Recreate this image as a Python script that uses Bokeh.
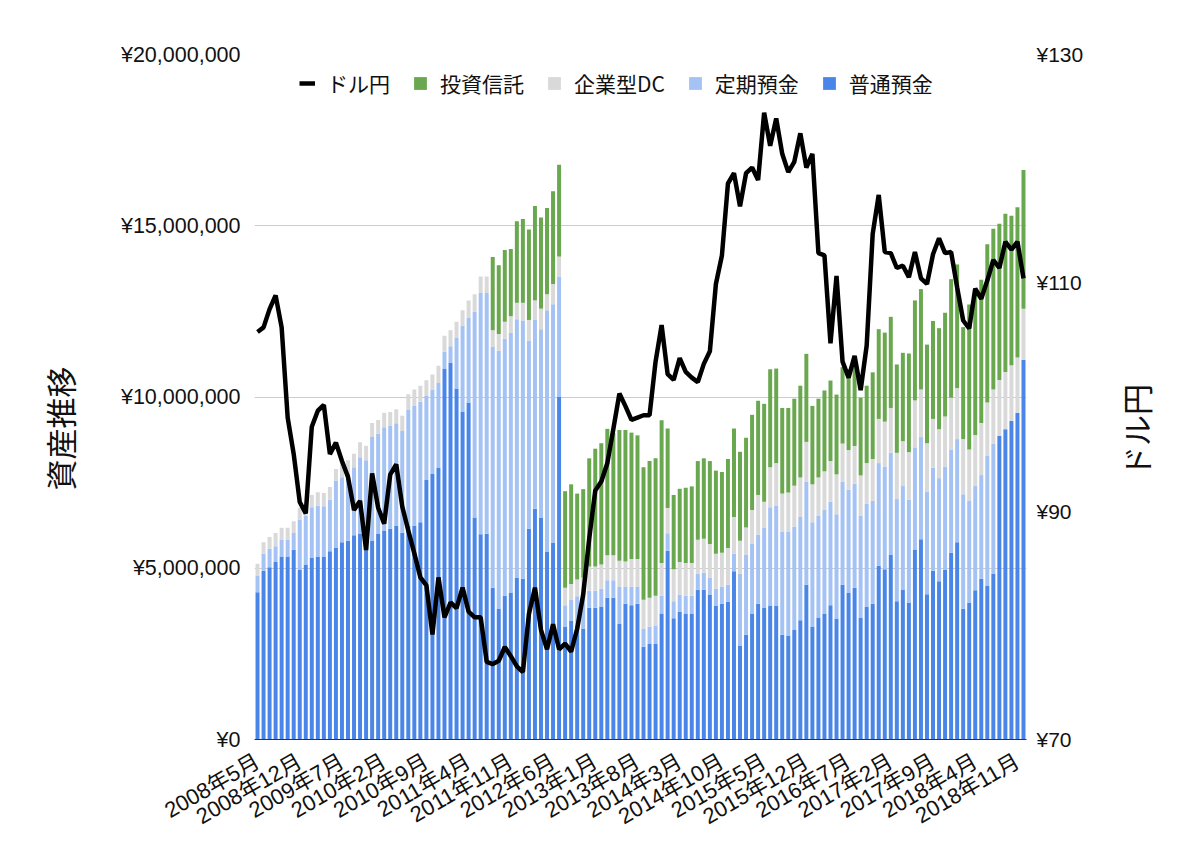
import math
from bokeh.plotting import figure
from bokeh.models import (Range1d, LinearAxis, FixedTicker, Legend, LegendItem,
                          ColumnDataSource, Title, Label)
from bokeh.embed import file_html
from bokeh.resources import INLINE

# ---- data (million yen), monthly 2008-05 .. 2018-12 ----
futsu = [4.30, 4.93, 5.03, 5.18, 5.34, 5.34, 5.54, 4.95, 5.11, 5.30,
         5.34, 5.34, 5.50, 5.59, 5.76, 5.80, 5.96, 6.00, 5.95, 5.81,
         6.00, 6.10, 6.15, 6.23, 6.04, 6.23, 6.23, 6.34, 7.58, 7.75,
         7.93, 10.82, 10.99, 10.25, 9.56, 9.84, 6.48, 5.99, 6.01, 4.43,
         3.81, 4.20, 4.29, 4.73, 4.69, 6.15, 6.74, 6.48, 5.49, 5.74,
         10.00, 3.30, 3.46, 3.24, 3.24, 3.85, 3.85, 3.88, 4.14, 4.14,
         3.37, 3.96, 3.92, 3.96, 2.71, 2.79, 2.79, 3.68, 5.51, 3.54,
         3.72, 3.68, 3.68, 4.37, 4.37, 4.23, 3.90, 3.96, 4.02, 4.91,
         2.73, 3.06, 3.68, 3.96, 3.84, 3.90, 3.90, 3.06, 3.04, 3.21,
         3.48, 4.52, 3.30, 3.56, 3.68, 3.92, 3.53, 4.52, 4.28, 4.43,
         3.56, 3.87, 3.96, 5.07, 4.97, 5.39, 4.04, 4.38, 4.00, 5.55,
         5.85, 4.24, 4.93, 4.62, 4.95, 5.45, 5.76, 3.82, 4.00, 4.36,
         4.69, 4.50, 4.83, 8.86, 9.06, 9.30, 9.54, 11.09]
teiki = [0.49, 0.49, 0.54, 0.46, 0.50, 0.50, 0.49, 1.47, 1.43, 1.48,
         1.49, 1.47, 1.50, 1.97, 1.90, 1.95, 1.99, 2.24, 2.20, 3.02,
         2.93, 3.02, 3.00, 3.00, 2.97, 3.39, 3.52, 3.52, 2.45, 2.47,
         2.48, 0.50, 0.49, 1.49, 2.53, 2.47, 6.01, 7.05, 7.03, 7.03,
         7.54, 7.50, 7.58, 7.54, 7.54, 5.50, 5.51, 5.50, 7.04, 6.97,
         3.52, 0.62, 0.61, 0.94, 0.99, 0.49, 0.49, 0.52, 0.51, 0.51,
         1.08, 0.49, 0.55, 0.49, 0.53, 0.51, 0.54, 0.52, 0.51, 0.50,
         0.51, 0.52, 0.52, 0.48, 0.50, 0.50, 0.50, 0.51, 0.50, 0.51,
         2.12, 2.33, 2.03, 2.02, 2.35, 2.88, 2.92, 3.01, 3.03, 3.01,
         3.02, 3.01, 3.04, 2.98, 3.02, 3.02, 3.05, 3.01, 3.01, 3.04,
         2.98, 3.01, 3.01, 3.00, 3.00, 2.98, 2.98, 3.02, 3.00, 2.98,
         2.98, 3.00, 3.00, 3.01, 3.02, 3.02, 3.01, 3.34, 2.98, 3.04,
         3.03, 3.79, 3.80, 0.00, 0.00, 0.00, 0.00, 0.00]
kigyo_dc = [0.34, 0.34, 0.34, 0.39, 0.34, 0.34, 0.34, 0.35, 0.36, 0.36,
            0.39, 0.39, 0.37, 0.34, 0.45, 0.40, 0.39, 0.44, 0.43, 0.41,
            0.40, 0.42, 0.41, 0.41, 0.44, 0.46, 0.47, 0.47, 0.46, 0.44,
            0.50, 0.47, 0.47, 0.46, 0.44, 0.51, 0.51, 0.48, 0.48, 0.49,
            0.49, 0.50, 0.49, 0.48, 0.52, 0.60, 0.57, 0.60, 0.47, 0.59,
            0.58, 0.51, 0.47, 0.49, 0.50, 0.71, 0.71, 0.71, 0.73, 0.73,
            0.77, 0.75, 0.80, 0.82, 0.84, 0.84, 0.87, 0.95, 0.74, 0.93,
            0.95, 0.95, 0.95, 0.98, 0.99, 0.98, 1.02, 0.98, 1.07, 1.08,
            0.95, 0.80, 0.99, 1.16, 0.75, 1.17, 1.25, 1.11, 1.14, 1.19,
            1.15, 1.16, 1.11, 1.11, 1.13, 1.19, 1.16, 1.11, 1.16, 1.10,
            1.17, 1.19, 1.22, 1.29, 1.31, 1.31, 1.35, 1.31, 1.39, 1.37,
            1.39, 1.41, 1.43, 1.43, 1.46, 1.51, 1.49, 1.61, 1.49, 1.49,
            1.52, 1.55, 1.59, 1.64, 1.67, 1.63, 1.61, 1.49]
toshin = [0.0] * 39 + [
          2.14, 2.01, 2.09, 1.96, 2.38, 2.45, 2.64, 2.76, 2.66, 2.52,
          2.71, 2.68, 2.82, 2.91, 2.51, 2.58, 3.16, 3.44, 3.54, 3.69,
          3.57, 3.82, 3.84, 3.69, 3.61, 3.87, 3.99, 4.01, 4.17, 2.32,
          2.17, 2.14, 2.20, 2.24, 2.30, 2.35, 2.42, 2.43, 2.36, 2.60,
          2.58, 2.60, 2.62, 2.78, 2.75, 2.86, 2.86, 2.76, 2.50, 2.47,
          2.54, 2.68, 2.57, 2.29, 2.30, 2.36, 2.35, 2.33, 2.23, 2.36,
          2.48, 2.27, 2.26, 2.53, 2.62, 2.60, 2.66, 2.58, 2.58, 2.88,
          2.92, 2.93, 2.88, 2.86, 2.95, 3.03, 3.46, 3.61, 3.27, 4.23,
          4.23, 4.18, 4.62, 4.69, 4.56, 4.62, 4.36, 4.39, 4.05]
usdjpy = [105.7, 106.1, 107.7, 108.9, 106.1, 98.2, 95.0, 90.8, 89.8, 97.4,
          98.8, 99.3, 95.0, 96.0, 94.4, 93.0, 90.1, 90.9, 86.6, 93.3,
          90.3, 88.9, 93.2, 94.1, 90.4, 88.3, 86.3, 84.2, 83.5, 79.2,
          84.2, 80.7, 82.0, 81.5, 83.3, 81.2, 80.7, 80.7, 76.8, 76.6,
          76.9, 78.1, 77.3, 76.4, 75.9, 81.0, 83.3, 79.6, 77.9, 80.1,
          77.9, 78.4, 77.7, 79.7, 82.7, 87.6, 91.8, 92.6, 94.2, 97.2,
          100.3, 99.2, 98.0, 98.2, 98.4, 98.4, 103.1, 106.3, 102.0, 101.5,
          103.4, 102.2, 101.7, 101.3, 102.9, 104.0, 109.9, 112.4, 118.7, 119.6,
          116.7, 119.6, 120.1, 119.0, 124.9, 122.0, 124.4, 121.3, 119.7, 120.6,
          123.1, 120.1, 121.3, 112.6, 112.4, 104.7, 110.6, 103.1, 101.7, 103.6,
          100.6, 104.5, 114.3, 117.7, 112.7, 112.6, 111.3, 111.5, 110.5, 112.7,
          110.4, 109.9, 112.5, 113.9, 112.6, 112.7, 109.6, 106.7, 106.0, 109.5,
          108.6, 110.2, 112.0, 111.3, 113.6, 112.9, 113.6, 110.4]

x_tick_labels = ["2008年5月", "2008年12月", "2009年7月", "2010年2月", "2010年9月",
                 "2011年4月", "2011年11月", "2012年6月", "2013年1月", "2013年8月",
                 "2014年3月", "2014年10月", "2015年5月", "2015年12月", "2016年7月",
                 "2017年2月", "2017年9月", "2018年4月", "2018年11月"]
left_ticks = [0, 5000000, 10000000, 15000000, 20000000]
left_labels = ["¥0", "¥5,000,000", "¥10,000,000", "¥15,000,000", "¥20,000,000"]
right_ticks = [70, 90, 110, 130]
right_labels = ["¥70", "¥90", "¥110", "¥130"]

series_names = ["普通預金", "定期預金", "企業型DC", "投資信託"]
colors = ["#4a86e8", "#a4c2f4", "#d9d9d9", "#6aa84f"]
left_title = "資産推移"
right_title = "ドル円"

LATIN = "Liberation Sans, Noto Sans CJK JP"
CJK = "Noto Sans CJK JP"
TXT = "#111111"

n = len(futsu)
xs = list(range(n))
src = ColumnDataSource(dict(
    x=xs,
    futsu=[v * 1e6 for v in futsu],
    teiki=[v * 1e6 for v in teiki],
    dc=[v * 1e6 for v in kigyo_dc],
    toshin=[v * 1e6 for v in toshin],
    fx=usdjpy,
))

p = figure(width=1184, height=843, output_backend="svg", toolbar_location=None,
           x_range=Range1d(-0.5, n - 0.5), y_range=Range1d(0, 20000000),
           min_border_left=254, min_border_right=158,
           min_border_top=54, min_border_bottom=104)
p.outline_line_color = None
p.background_fill_color = "white"
p.border_fill_color = "white"
p.xgrid.grid_line_color = None
p.ygrid.grid_line_color = "#cccccc"
p.ygrid.grid_line_width = 1

bars = p.vbar_stack(["futsu", "teiki", "dc", "toshin"], x="x", width=0.66,
                    color=colors, line_color=None, source=src)

p.extra_y_ranges = {"fx": Range1d(70, 130)}
line = p.line("x", "fx", source=src, y_range_name="fx", color="black",
              line_width=4.5)

# x axis
xa = p.xaxis[0]
xa.ticker = FixedTicker(ticks=[7 * k for k in range(len(x_tick_labels))])
xa.major_label_overrides = {7 * k: lab for k, lab in enumerate(x_tick_labels)}
xa.major_label_orientation = math.pi / 6
xa.major_label_text_font = LATIN
xa.major_label_text_font_size = "22px"
xa.major_label_text_color = TXT
xa.major_tick_line_color = None
xa.major_tick_out = 0
xa.major_tick_in = 0
xa.minor_tick_line_color = None
xa.axis_line_color = "#333333"
xa.major_label_standoff = 20

# left axis
ya = p.yaxis[0]
ya.ticker = FixedTicker(ticks=left_ticks)
ya.major_label_overrides = dict(zip(left_ticks, left_labels))
ya.major_label_text_font = LATIN
ya.major_label_text_font_size = "21.5px"
ya.major_label_text_color = TXT
ya.major_tick_line_color = None
ya.major_tick_out = 0
ya.major_tick_in = 0
ya.minor_tick_line_color = None
ya.axis_line_color = None
ya.major_label_standoff = 14

# right axis
ra = LinearAxis(y_range_name="fx", ticker=FixedTicker(ticks=right_ticks))
ra.major_label_overrides = dict(zip(right_ticks, right_labels))
ra.major_label_text_font = LATIN
ra.major_label_text_font_size = "21px"
ra.major_label_text_color = TXT
ra.major_tick_line_color = None
ra.major_tick_out = 0
ra.major_tick_in = 0
ra.minor_tick_line_color = None
ra.axis_line_color = None
ra.major_label_standoff = 10
p.add_layout(ra, "right")

# axis titles: placed like the original (centred on the whole chart height)
p.add_layout(Title(text=left_title, align="left", offset=249,
                   vertical_align="middle", standoff=70,
                   text_font=CJK, text_font_size="31px",
                   text_font_style="normal", text_color=TXT), "left")
p.add_layout(Label(x=49, y=309, x_units="screen", y_units="screen",
                   text=right_title, angle=math.pi / 2,
                   text_align="center", text_baseline="middle",
                   text_font=CJK, text_font_size="31px",
                   text_color=TXT), "right")

legend = Legend(items=[
    LegendItem(label="ドル円", renderers=[line]),
    LegendItem(label=series_names[3], renderers=[bars[3]]),
    LegendItem(label=series_names[2], renderers=[bars[2]]),
    LegendItem(label=series_names[1], renderers=[bars[1]]),
    LegendItem(label=series_names[0], renderers=[bars[0]]),
], orientation="horizontal", location=(45, 641))
legend.label_text_font = CJK
legend.label_text_font_size = "21px"
legend.label_text_color = TXT
legend.glyph_width = 16
legend.glyph_height = 16
legend.label_standoff = 12
legend.spacing = 22
legend.padding = 0
legend.margin = 0
legend.border_line_color = None
legend.background_fill_alpha = 0
p.add_layout(legend)

open("out.html", "w").write(file_html(p, INLINE))
